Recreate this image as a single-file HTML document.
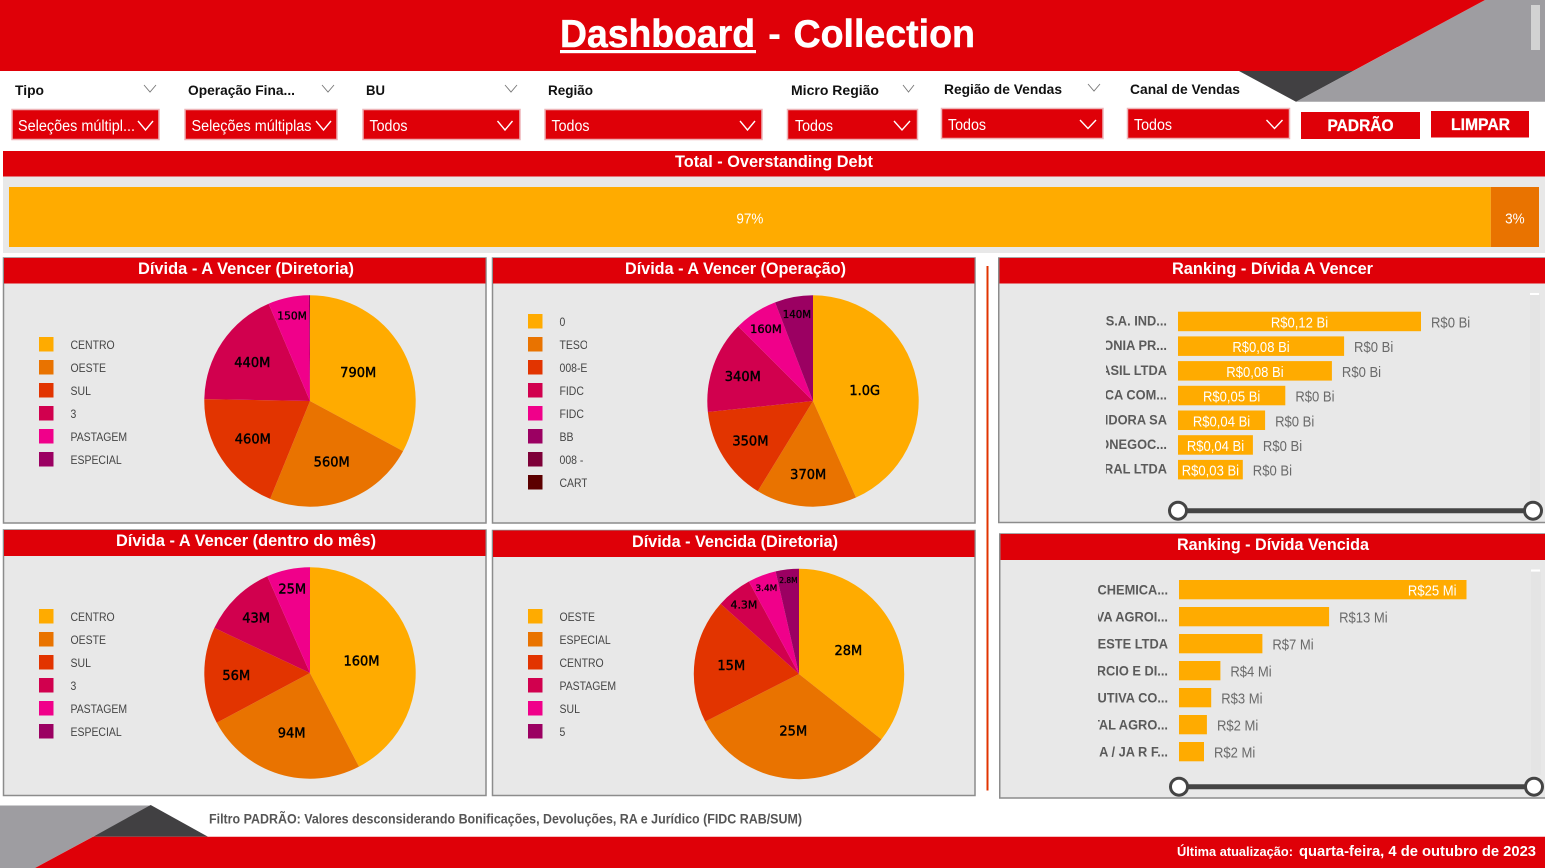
<!DOCTYPE html>
<html lang="pt-BR">
<head>
<meta charset="utf-8">
<title>Dashboard - Collection</title>
<style>
html,body{margin:0;padding:0;background:#fff;width:1545px;height:868px;overflow:hidden}
svg{display:block;font-family:"Liberation Sans",sans-serif}
.lbl{font-size:13.5px;font-weight:700;fill:#111}
.val{font-size:15.5px;fill:#fff}
.ttl{font-size:17px;font-weight:700;fill:#fff}
.dd{fill:#DF0008;stroke:#eeb4b8;stroke-width:1.5}
.card{fill:#E8E8E8;stroke:#8c8c8c;stroke-width:1.5}
.hdr{fill:#DF0008}
.chev{fill:none;stroke:#fff;stroke-width:1.4}
.chev2{fill:none;stroke:#777;stroke-width:.9}
</style>
</head>
<body>
<svg id="root" width="1545" height="868" viewBox="0 0 1545 868" xmlns="http://www.w3.org/2000/svg">
<defs>
<clipPath id="clipLegendOp"><rect x="555" y="300" width="32" height="200"/></clipPath>
<clipPath id="clipRank1"><rect x="1106" y="300" width="66" height="190"/></clipPath>
<clipPath id="clipRank2"><rect x="1098" y="570" width="74" height="195"/></clipPath>
</defs>

<!-- header -->
<polygon points="1485,0 1545,0 1545,101.7 1296,101.7" fill="#9E9DA1"/>
<polygon points="1239,71 1353,71 1296,101.7" fill="#414042"/>
<polygon points="0,0 1485,0 1353,71 0,71" fill="#DF0008"/>
<rect x="1531" y="5" width="9" height="45" fill="#d2d2d2"/>
<text x="560" y="47" font-size="39" font-weight="700" fill="#fff" stroke="#fff" stroke-width=".5" textLength="195" lengthAdjust="spacingAndGlyphs">Dashboard</text>
<rect x="560" y="50" width="196" height="3.2" fill="#fff"/>
<text x="768" y="47" font-size="39" font-weight="700" fill="#fff" textLength="13" lengthAdjust="spacingAndGlyphs">-</text>
<text x="793.5" y="47" font-size="39" font-weight="700" fill="#fff" stroke="#fff" stroke-width=".5" textLength="181.5" lengthAdjust="spacingAndGlyphs">Collection</text>

<!-- slicer labels -->
<text class="lbl" x="15" y="95" textLength="29" lengthAdjust="spacingAndGlyphs">Tipo</text>
<text class="lbl" x="188" y="95" textLength="107" lengthAdjust="spacingAndGlyphs">Operação Fina...</text>
<text class="lbl" x="366" y="95" textLength="19" lengthAdjust="spacingAndGlyphs">BU</text>
<text class="lbl" x="548" y="95" textLength="45" lengthAdjust="spacingAndGlyphs">Região</text>
<text class="lbl" x="791" y="95" textLength="88" lengthAdjust="spacingAndGlyphs">Micro Região</text>
<text class="lbl" x="944" y="94" textLength="118" lengthAdjust="spacingAndGlyphs">Região de Vendas</text>
<text class="lbl" x="1130" y="94" textLength="110" lengthAdjust="spacingAndGlyphs">Canal de Vendas</text>
<polyline class="chev2" points="144,85 150,92 156,85"/>
<polyline class="chev2" points="322,85 328,92 334,85"/>
<polyline class="chev2" points="505,85 511,92 517,85"/>
<polyline class="chev2" points="903,85 908.500,92 914,85"/>
<polyline class="chev2" points="1088,84 1094,91 1100,84"/>

<!-- dropdowns -->
<g>
<rect class="dd" x="12" y="109.500" width="147" height="30"/>
<text class="val" x="18" y="131" textLength="117" lengthAdjust="spacingAndGlyphs">Seleções múltipl...</text>
<polyline class="chev" points="138,121 145.500,130 153,121"/></g>
<g>
<rect class="dd" x="185" y="109.500" width="152" height="30"/>
<text class="val" x="191.500" y="131" textLength="120" lengthAdjust="spacingAndGlyphs">Seleções múltiplas</text>
<polyline class="chev" points="316,121 323.500,130 331,121"/></g>
<g>
<rect class="dd" x="363" y="109.500" width="157" height="30"/>
<text class="val" x="369.500" y="131" textLength="38" lengthAdjust="spacingAndGlyphs">Todos</text>
<polyline class="chev" points="497.500,121 505,130 512.500,121"/></g>
<g>
<rect class="dd" x="545" y="109.500" width="217" height="30"/>
<text class="val" x="551.500" y="131" textLength="38" lengthAdjust="spacingAndGlyphs">Todos</text>
<polyline class="chev" points="740,121 747.500,130 755,121"/></g>
<g>
<rect class="dd" x="787.500" y="109.500" width="130" height="30"/>
<text class="val" x="795" y="131" textLength="38" lengthAdjust="spacingAndGlyphs">Todos</text>
<polyline class="chev" points="894,121 902,130 910,121"/></g>
<g>
<rect class="dd" x="941.500" y="108.500" width="161.500" height="30"/>
<text class="val" x="948" y="130" textLength="38" lengthAdjust="spacingAndGlyphs">Todos</text>
<polyline class="chev" points="1080,120 1088,128.500 1096,120"/></g>
<g>
<rect class="dd" x="1127.500" y="108.500" width="162" height="30"/>
<text class="val" x="1134" y="130" textLength="38" lengthAdjust="spacingAndGlyphs">Todos</text>
<polyline class="chev" points="1266.500,120 1274.500,128.500 1282.500,120"/></g>

<!-- buttons -->
<g>
<rect x="1301" y="112" width="119" height="27" fill="#DF0008"/>
<text x="1327.500" y="131" font-size="16.500" font-weight="700" fill="#fff" stroke="#fff" stroke-width=".3" textLength="66" lengthAdjust="spacingAndGlyphs">PADRÃO</text></g>
<g>
<rect x="1431" y="111" width="98" height="26.500" fill="#DF0008"/>
<text x="1451" y="130" font-size="16.500" font-weight="700" fill="#fff" stroke="#fff" stroke-width=".3" textLength="59" lengthAdjust="spacingAndGlyphs">LIMPAR</text></g>

<!-- total -->
<rect class="hdr" x="3" y="151" width="1542" height="25.500"/>
<text class="ttl" x="675" y="167" textLength="198" lengthAdjust="spacingAndGlyphs">Total - Overstanding Debt</text>
<rect x="3" y="176.500" width="1542" height="76.500" fill="#E8E8E8"/>
<g id="totalBar"></g>

<!-- cards -->
<rect class="card" x="3.500" y="258" width="482.500" height="265"/>
<rect class="hdr" x="4" y="258" width="481.500" height="25.500"/>
<text class="ttl" x="138" y="274" textLength="216" lengthAdjust="spacingAndGlyphs">Dívida - A Vencer (Diretoria)</text>

<rect class="card" x="492.500" y="258" width="482.500" height="265"/>
<rect class="hdr" x="493" y="258" width="481.500" height="25.500"/>
<text class="ttl" x="625" y="274" textLength="221" lengthAdjust="spacingAndGlyphs">Dívida - A Vencer (Operação)</text>

<rect class="card" x="3.500" y="530" width="482.500" height="265.500"/>
<rect class="hdr" x="4" y="530" width="481.500" height="26"/>
<text class="ttl" x="116" y="546" textLength="260" lengthAdjust="spacingAndGlyphs">Dívida - A Vencer (dentro do mês)</text>

<rect class="card" x="492.500" y="530.500" width="482.500" height="265"/>
<rect class="hdr" x="493" y="530.500" width="481.500" height="26.500"/>
<text class="ttl" x="632" y="547" textLength="206" lengthAdjust="spacingAndGlyphs">Dívida - Vencida (Diretoria)</text>

<rect x="986.500" y="266" width="2" height="524.500" fill="#E23400"/>

<rect class="card" x="998.750" y="258" width="547" height="264.500"/>
<rect class="hdr" x="999.500" y="258" width="545.500" height="25.500"/>
<text class="ttl" x="1172" y="274" textLength="201" lengthAdjust="spacingAndGlyphs">Ranking - Dívida A Vencer</text>
<rect x="1530" y="295" width="10" height="205" fill="#E4E4E4"/>
<rect x="1530" y="293" width="9" height="2" fill="#fff"/>

<rect class="card" x="999.750" y="534" width="546" height="264"/>
<rect class="hdr" x="1000.500" y="534" width="544.500" height="26"/>
<text class="ttl" x="1177" y="550" textLength="192" lengthAdjust="spacingAndGlyphs">Ranking - Dívida Vencida</text>
<rect x="1531" y="572" width="10" height="203" fill="#E4E4E4"/>
<rect x="1531" y="569.500" width="9" height="2" fill="#fff"/>

<g id="charts"></g>

<!-- range sliders -->
<g>
<line x1="1178" y1="510.700" x2="1533" y2="510.700" stroke="#444" stroke-width="5"/>
<circle cx="1178" cy="510.700" r="8.500" fill="#fff" stroke="#444" stroke-width="3"/>
<circle cx="1533" cy="510.700" r="8.500" fill="#fff" stroke="#444" stroke-width="3"/></g>
<g>
<line x1="1179" y1="786.700" x2="1534" y2="786.700" stroke="#444" stroke-width="5"/>
<circle cx="1179" cy="786.700" r="8.500" fill="#fff" stroke="#444" stroke-width="3"/>
<circle cx="1534" cy="786.700" r="8.500" fill="#fff" stroke="#444" stroke-width="3"/></g>

<!-- footer -->
<polygon points="0,805.500 150.700,805.500 35,868 0,868" fill="#9E9DA1"/>
<polygon points="150.700,805 208,836.700 93,836.700" fill="#414042"/>
<polygon points="93,836.700 1545,836.700 1545,868 35,868" fill="#DF0008"/>
<text x="209" y="823.500" font-size="13.500" font-weight="700" fill="#555" textLength="593" lengthAdjust="spacingAndGlyphs">Filtro PADRÃO: Valores desconsiderando Bonificações, Devoluções, RA e Jurídico (FIDC RAB/SUM)</text>
<text x="1177" y="856" font-size="13" font-weight="700" fill="#fff" textLength="116" lengthAdjust="spacingAndGlyphs">Última atualização:</text>
<text x="1299" y="856" font-size="15" font-weight="700" fill="#fff" textLength="237" lengthAdjust="spacingAndGlyphs">quarta-feira, 4 de outubro de 2023</text>
</svg>

<script>
const totalLabels = ['A Vencer', 'Vencida'];
const totalShares = [96.85, 3.15];

const pieDiretoriaCategories = ['CENTRO', 'OESTE', 'SUL', '3', 'PASTAGEM', 'ESPECIAL'];
const pieDiretoriaValues = [790, 560, 460, 440, 150, 4];

const pieOperacaoCategories = ['0', 'TESO', '008-E', 'FIDC', 'FIDC', 'BB', '008 -', 'CART'];
const pieOperacaoValues = [1040, 370, 350, 340, 160, 140, 0, 0];

const pieMesCategories = ['CENTRO', 'OESTE', 'SUL', '3', 'PASTAGEM', 'ESPECIAL'];
const pieMesValues = [160, 94, 56, 43, 25, 0];

const pieVencidaCategories = ['OESTE', 'ESPECIAL', 'CENTRO', 'PASTAGEM', 'SUL', '5'];
const pieVencidaValues = [28, 25, 15, 4.3, 3.4, 2.8];

const rankVencerCategories = ['S.A. IND...', 'ONIA PR...', 'ASIL LTDA', 'CA COM...', 'UIDORA SA', 'ONEGOC...', 'URAL LTDA'];
const rankVencerValues = [0.12, 0.082, 0.076, 0.053, 0.043, 0.037, 0.032];
const rankVencerSecondValues = [0, 0, 0, 0, 0, 0, 0];

const rankVencidaCategories = ['CHEMICA...', 'IVA AGROI...', 'OESTE LTDA', 'ERCIO E DI...', 'UTIVA CO...', 'ITAL AGRO...', 'A / JA R F...'];
const rankVencidaValues = [25, 13.05, 7.25, 3.6, 2.8, 2.43, 2.17];

const sliceColors = ['#FFAB00', '#E97300', '#E23400', '#D1004E', '#F0008A', '#9B0062', '#7D0038', '#5C0000'];

const NS = 'http://www.w3.org/2000/svg';
const chartsLayer = document.getElementById('charts');

function svgEl(parent, tag, attrs, text) {
  const el = document.createElementNS(NS, tag);
  for (const k in attrs) el.setAttribute(k, attrs[k]);
  if (text !== undefined) el.textContent = text;
  parent.appendChild(el);
  return el;
}

function squeeze(el, ratio) {
  el.setAttribute('textLength', (el.getComputedTextLength() * ratio).toFixed(1));
  el.setAttribute('lengthAdjust', 'spacingAndGlyphs');
}

function formatPieValue(v) {
  if (v >= 1000) return (v / 1000).toFixed(1) + 'G';
  if (v < 10) return v.toFixed(1) + 'M';
  return Math.round(v) + 'M';
}

function labelRadiusFraction(f) {
  const knots = [[.036, .90], [.06, .83], [.114, .73], [.146, .70], [.19, .65], [.25, .59], [.33, .53], [.43, .50]];
  if (f <= knots[0][0]) return knots[0][1];
  for (let i = 1; i < knots.length; i++) {
    if (f <= knots[i][0]) {
      const t = (f - knots[i - 1][0]) / (knots[i][0] - knots[i - 1][0]);
      return knots[i - 1][1] + t * (knots[i][1] - knots[i - 1][1]);
    }
  }
  return knots[knots.length - 1][1];
}

function drawPie(name, cx, cy, r, categories, values, legendX, legendY, clipId) {
  const group = svgEl(chartsLayer, 'g', {});
  
  
  const total = values.reduce((a, b) => a + b, 0);
  const angleOf = v => v / total * Math.PI * 2;
  const pt = (a, rad) => [cx + rad * Math.sin(a), cy - rad * Math.cos(a)];
  let start = 0;
  values.forEach((v, i) => {
    const sweep = angleOf(v);
    if (v > 0) {
      const p0 = pt(start, r), p1 = pt(start + sweep, r);
      const large = sweep > Math.PI ? 1 : 0;
      const d = 'M' + cx + ' ' + cy + 'L' + p0[0].toFixed(2) + ' ' + p0[1].toFixed(2) +
        'A' + r + ' ' + r + ' 0 ' + large + ' 1 ' + p1[0].toFixed(2) + ' ' + p1[1].toFixed(2) + 'Z';
      const slice = svgEl(group, 'path', { d: d, fill: sliceColors[i % sliceColors.length] });
      
      
    }
    start += sweep;
  });
  start = 0;
  values.forEach((v) => {
    const sweep = angleOf(v);
    const f = v / total;
    if (f >= 0.02) {
      const rf = labelRadiusFraction(f);
      const p = pt(start + sweep / 2, r * rf);
      const label = svgEl(group, 'text', {
        x: p[0].toFixed(1), y: p[1].toFixed(1), 'text-anchor': 'middle',
        'font-size': 13, fill: '#000', stroke: '#000', 'stroke-width': .3,
        style: 'font-family:"DejaVu Sans",sans-serif'
      }, formatPieValue(v));
      
      
      const target = f * 2 * Math.PI * r * rf * .87;
      const size = Math.min(13, 13 * target / label.getComputedTextLength());
      label.setAttribute('font-size', size.toFixed(1));
      label.setAttribute('stroke-width', (size * .032).toFixed(2));
      label.setAttribute('y', (p[1] + size * .38).toFixed(1));
    }
    start += sweep;
  });
  const legend = svgEl(group, 'g', {});
  
  
  categories.forEach((c, i) => {
    const y = legendY + i * 23;
    const sw = svgEl(legend, 'rect', { x: legendX, y: y, width: 14.5, height: 14.5, fill: sliceColors[i % sliceColors.length] });
    
    
    const attrs = { x: legendX + 31.5, y: y + 12, 'font-size': 11.5, fill: '#444' };
    if (clipId) attrs['clip-path'] = 'url(#' + clipId + ')';
    const tx = svgEl(legend, 'text', attrs, c);
    
    
    squeeze(tx, .91);
  });
}

function drawRanking(name, x0, y0, pitch, h, unitWidth, categories, values, formatValue, secondValues, secondFormat, catRight, clipId, catOffset) {
  const group = svgEl(chartsLayer, 'g', {});
  
  
  values.forEach((v, i) => {
    const y = y0 + i * pitch;
    const w = v * unitWidth;
    const bar = svgEl(group, 'rect', { x: x0, y: y, width: w.toFixed(1), height: h, fill: '#FFAB00' });
    
    
    const cat = svgEl(group, 'text', {
      x: catRight, y: y + h / 2 + 4.5 + catOffset, 'text-anchor': 'end', 'font-size': 13.5, 'font-weight': 700,
      fill: '#5a5a5a', 'clip-path': 'url(#' + clipId + ')'
    }, categories[i]);
    
    
    squeeze(cat, .95);
    const cy = y + h / 2 + 6;
    if (secondValues) {
      const inside = svgEl(group, 'text', { x: x0 + w / 2, y: cy, 'text-anchor': 'middle', 'font-size': 15, fill: '#fff' }, formatValue(v));
      
      
      squeeze(inside, .87);
      const outside = svgEl(group, 'text', { x: x0 + w + 10, y: cy, 'font-size': 15, fill: '#6a6a6a' }, secondFormat(secondValues[i]));
      
      
      squeeze(outside, .87);
    } else if (w > 200) {
      const inside = svgEl(group, 'text', { x: x0 + w - 10, y: cy, 'text-anchor': 'end', 'font-size': 15, fill: '#fff' }, formatValue(v));
      
      
      squeeze(inside, .87);
    } else {
      const outside = svgEl(group, 'text', { x: x0 + w + 10, y: cy, 'font-size': 15, fill: '#6a6a6a' }, formatValue(v));
      
      
      squeeze(outside, .87);
    }
  });
}

function drawTotal() {
  const g = document.getElementById('totalBar');
  const x0 = 9, width = 1530, y = 187, h = 60;
  const sum = totalShares.reduce((a, b) => a + b, 0);
  let x = x0;
  totalShares.forEach((s, i) => {
    const w = s / sum * width;
    const seg = svgEl(g, 'rect', { x: x.toFixed(1), y: y, width: w.toFixed(1), height: h, fill: sliceColors[i] });
    
    
    const label = svgEl(g, 'text', { x: (x + w / 2).toFixed(1), y: y + 36.5, 'text-anchor': 'middle', 'font-size': 15, fill: '#fff' }, Math.round(s) + '%');
    
    
    squeeze(label, .9);
    x += w;
  });
}

drawTotal();
drawPie('pie-diretoria', 310, 401, 105.700, pieDiretoriaCategories, pieDiretoriaValues, 39, 337, null);
drawPie('pie-operacao', 813, 401, 105.700, pieOperacaoCategories, pieOperacaoValues, 528, 314, 'clipLegendOp');
drawPie('pie-mes', 310, 673, 105.700, pieMesCategories, pieMesValues, 39, 609, null);
drawPie('pie-vencida', 799, 674, 105.200, pieVencidaCategories, pieVencidaValues, 528, 609, null);

drawRanking('ranking-vencer-chart', 1178, 311.700, 24.700, 19.500, 2025,
  rankVencerCategories, rankVencerValues,
  v => 'R$' + v.toFixed(2).replace('.', ',') + ' Bi',
  rankVencerSecondValues, v => 'R$' + v + ' Bi',
  1167, 'clipRank1', -0.5);
drawRanking('ranking-vencida-chart', 1179, 580, 27, 19.300, 11.500,
  rankVencidaCategories, rankVencidaValues,
  v => 'R$' + Math.round(v) + ' Mi',
  null, null,
  1168, 'clipRank2', 0.5);
</script>
</body>
</html>
